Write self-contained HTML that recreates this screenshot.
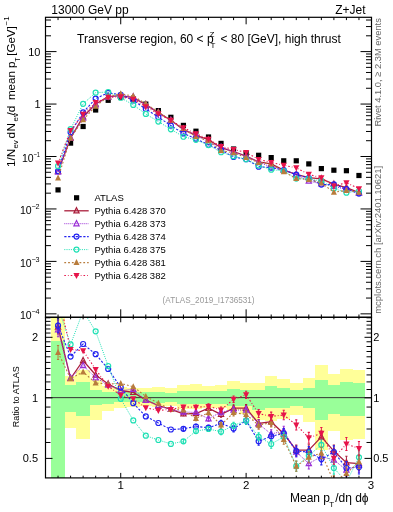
<!DOCTYPE html><html><head><meta charset="utf-8"><style>html,body{margin:0;padding:0;background:#fff;width:393px;height:512px;overflow:hidden;position:relative}svg{will-change:transform}svg text{font-family:"Liberation Sans",sans-serif}</style></head><body><svg width="393" height="512" viewBox="0 0 393 512" style="position:absolute;left:0;top:0">
<defs><clipPath id="cm"><rect x="45.50" y="17.30" width="326.00" height="300.00"/></clipPath>
<clipPath id="cr"><rect x="45.50" y="317.30" width="326.00" height="160.60"/></clipPath></defs>
<g clip-path="url(#cr)" shape-rendering="crispEdges">
<rect x="51.10" y="312.30" width="13.70" height="170.60" fill="#ffff99"/>
<rect x="51.10" y="341.00" width="13.70" height="141.90" fill="#99ff99"/>
<rect x="64.80" y="375.80" width="11.60" height="52.30" fill="#ffff99"/>
<rect x="64.80" y="384.90" width="11.60" height="27.40" fill="#99ff99"/>
<rect x="76.40" y="370.00" width="13.60" height="68.90" fill="#ffff99"/>
<rect x="76.40" y="382.40" width="13.60" height="33.70" fill="#99ff99"/>
<rect x="90.00" y="380.00" width="12.00" height="39.50" fill="#ffff99"/>
<rect x="90.00" y="389.60" width="12.00" height="15.60" fill="#99ff99"/>
<rect x="101.92" y="386.00" width="12.54" height="25.00" fill="#ffff99"/>
<rect x="101.92" y="391.75" width="12.54" height="11.75" fill="#99ff99"/>
<rect x="114.46" y="387.00" width="12.54" height="20.80" fill="#ffff99"/>
<rect x="114.46" y="392.40" width="12.54" height="9.60" fill="#99ff99"/>
<rect x="127.00" y="387.50" width="12.54" height="19.20" fill="#ffff99"/>
<rect x="127.00" y="392.20" width="12.54" height="9.60" fill="#99ff99"/>
<rect x="139.54" y="387.50" width="12.54" height="18.70" fill="#ffff99"/>
<rect x="139.54" y="392.20" width="12.54" height="9.40" fill="#99ff99"/>
<rect x="152.08" y="387.20" width="12.54" height="19.80" fill="#ffff99"/>
<rect x="152.08" y="392.10" width="12.54" height="10.40" fill="#99ff99"/>
<rect x="164.62" y="388.40" width="12.54" height="17.40" fill="#ffff99"/>
<rect x="164.62" y="393.00" width="12.54" height="9.20" fill="#99ff99"/>
<rect x="177.15" y="384.90" width="12.54" height="23.70" fill="#ffff99"/>
<rect x="177.15" y="391.00" width="12.54" height="13.00" fill="#99ff99"/>
<rect x="189.69" y="384.20" width="12.54" height="24.80" fill="#ffff99"/>
<rect x="189.69" y="391.00" width="12.54" height="13.00" fill="#99ff99"/>
<rect x="202.23" y="385.50" width="12.54" height="22.00" fill="#ffff99"/>
<rect x="202.23" y="391.40" width="12.54" height="12.20" fill="#99ff99"/>
<rect x="214.77" y="385.00" width="12.54" height="22.50" fill="#ffff99"/>
<rect x="214.77" y="391.10" width="12.54" height="12.80" fill="#99ff99"/>
<rect x="227.31" y="381.00" width="12.54" height="29.00" fill="#ffff99"/>
<rect x="227.31" y="389.10" width="12.54" height="16.60" fill="#99ff99"/>
<rect x="239.85" y="383.00" width="12.54" height="31.00" fill="#ffff99"/>
<rect x="239.85" y="390.20" width="12.54" height="15.50" fill="#99ff99"/>
<rect x="252.38" y="382.90" width="12.54" height="37.00" fill="#ffff99"/>
<rect x="252.38" y="389.70" width="12.54" height="19.90" fill="#99ff99"/>
<rect x="264.92" y="376.00" width="12.54" height="44.80" fill="#ffff99"/>
<rect x="264.92" y="386.10" width="12.54" height="21.40" fill="#99ff99"/>
<rect x="277.46" y="379.30" width="12.54" height="39.70" fill="#ffff99"/>
<rect x="277.46" y="388.00" width="12.54" height="19.80" fill="#99ff99"/>
<rect x="290.00" y="383.40" width="12.54" height="31.20" fill="#ffff99"/>
<rect x="290.00" y="389.80" width="12.54" height="16.50" fill="#99ff99"/>
<rect x="302.54" y="378.30" width="12.54" height="43.60" fill="#ffff99"/>
<rect x="302.54" y="387.90" width="12.54" height="20.50" fill="#99ff99"/>
<rect x="315.08" y="365.00" width="12.54" height="85.10" fill="#ffff99"/>
<rect x="315.08" y="380.20" width="12.54" height="39.60" fill="#99ff99"/>
<rect x="327.62" y="374.20" width="12.54" height="57.10" fill="#ffff99"/>
<rect x="327.62" y="384.70" width="12.54" height="28.90" fill="#99ff99"/>
<rect x="340.15" y="369.20" width="12.54" height="70.50" fill="#ffff99"/>
<rect x="340.15" y="382.20" width="12.54" height="33.50" fill="#99ff99"/>
<rect x="352.69" y="370.30" width="12.54" height="68.30" fill="#ffff99"/>
<rect x="352.69" y="382.90" width="12.54" height="32.80" fill="#99ff99"/>
</g>
<line x1="45.5" y1="397.65000000000003" x2="371.5" y2="397.65000000000003" stroke="#333" stroke-width="1.0"/>
<g clip-path="url(#cr)">
<path d="M58.04,327.00 L70.58,378.50 L83.12,360.50 L95.65,375.00 L108.19,384.00 L120.73,390.50 L133.27,392.40 L145.81,400.00 L158.35,405.50 L170.88,409.40 L183.42,413.90 L195.96,413.50 L208.50,408.20 L221.04,414.40 L233.58,408.20 L246.12,408.20 L258.65,423.50 L271.19,421.70 L283.73,433.80 L296.27,450.20 L308.81,450.20 L321.35,436.90 L333.88,451.10 L346.42,462.70 L358.96,463.60" fill="none" stroke="#aa1e3c" stroke-width="1.3" stroke-dasharray=""/>
<path d="M58.04,320.00V334.00M183.42,412.10V415.70M195.96,411.34V415.66M208.50,405.68V410.72M221.04,411.52V417.28M233.58,404.96V411.44M246.12,404.60V411.80M258.65,419.54V427.46M271.19,417.38V426.02M283.73,429.12V438.48M296.27,445.16V455.24M308.81,444.80V455.60M321.35,431.14V442.66M333.88,444.98V457.22M346.42,456.22V469.18M358.96,456.76V470.44" stroke="#aa1e3c" stroke-width="1" fill="none"/>
<path d="M56.94,320.00h2.2M56.94,334.00h2.2M182.32,412.10h2.2M182.32,415.70h2.2M194.86,411.34h2.2M194.86,415.66h2.2M207.40,405.68h2.2M207.40,410.72h2.2M219.94,411.52h2.2M219.94,417.28h2.2M232.48,404.96h2.2M232.48,411.44h2.2M245.02,404.60h2.2M245.02,411.80h2.2M257.55,419.54h2.2M257.55,427.46h2.2M270.09,417.38h2.2M270.09,426.02h2.2M282.63,429.12h2.2M282.63,438.48h2.2M295.17,445.16h2.2M295.17,455.24h2.2M307.71,444.80h2.2M307.71,455.60h2.2M320.25,431.14h2.2M320.25,442.66h2.2M332.78,444.98h2.2M332.78,457.22h2.2M345.32,456.22h2.2M345.32,469.18h2.2M357.86,456.76h2.2M357.86,470.44h2.2" stroke="#aa1e3c" stroke-width="1.1" fill="none"/>
<path d="M58.04,323.90L60.64,329.10L55.44,329.10Z" fill="none" stroke="#aa1e3c" stroke-width="1.2"/>
<path d="M70.58,375.40L73.18,380.60L67.98,380.60Z" fill="none" stroke="#aa1e3c" stroke-width="1.2"/>
<path d="M83.12,357.40L85.72,362.60L80.52,362.60Z" fill="none" stroke="#aa1e3c" stroke-width="1.2"/>
<path d="M95.65,371.90L98.25,377.10L93.05,377.10Z" fill="none" stroke="#aa1e3c" stroke-width="1.2"/>
<path d="M108.19,380.90L110.79,386.10L105.59,386.10Z" fill="none" stroke="#aa1e3c" stroke-width="1.2"/>
<path d="M120.73,387.40L123.33,392.60L118.13,392.60Z" fill="none" stroke="#aa1e3c" stroke-width="1.2"/>
<path d="M133.27,389.30L135.87,394.50L130.67,394.50Z" fill="none" stroke="#aa1e3c" stroke-width="1.2"/>
<path d="M145.81,396.90L148.41,402.10L143.21,402.10Z" fill="none" stroke="#aa1e3c" stroke-width="1.2"/>
<path d="M158.35,402.40L160.95,407.60L155.75,407.60Z" fill="none" stroke="#aa1e3c" stroke-width="1.2"/>
<path d="M170.88,406.30L173.48,411.50L168.28,411.50Z" fill="none" stroke="#aa1e3c" stroke-width="1.2"/>
<path d="M183.42,410.80L186.02,416.00L180.82,416.00Z" fill="none" stroke="#aa1e3c" stroke-width="1.2"/>
<path d="M195.96,410.40L198.56,415.60L193.36,415.60Z" fill="none" stroke="#aa1e3c" stroke-width="1.2"/>
<path d="M208.50,405.10L211.10,410.30L205.90,410.30Z" fill="none" stroke="#aa1e3c" stroke-width="1.2"/>
<path d="M221.04,411.30L223.64,416.50L218.44,416.50Z" fill="none" stroke="#aa1e3c" stroke-width="1.2"/>
<path d="M233.58,405.10L236.18,410.30L230.98,410.30Z" fill="none" stroke="#aa1e3c" stroke-width="1.2"/>
<path d="M246.12,405.10L248.72,410.30L243.52,410.30Z" fill="none" stroke="#aa1e3c" stroke-width="1.2"/>
<path d="M258.65,420.40L261.25,425.60L256.05,425.60Z" fill="none" stroke="#aa1e3c" stroke-width="1.2"/>
<path d="M271.19,418.60L273.79,423.80L268.59,423.80Z" fill="none" stroke="#aa1e3c" stroke-width="1.2"/>
<path d="M283.73,430.70L286.33,435.90L281.13,435.90Z" fill="none" stroke="#aa1e3c" stroke-width="1.2"/>
<path d="M296.27,447.10L298.87,452.30L293.67,452.30Z" fill="none" stroke="#aa1e3c" stroke-width="1.2"/>
<path d="M308.81,447.10L311.41,452.30L306.21,452.30Z" fill="none" stroke="#aa1e3c" stroke-width="1.2"/>
<path d="M321.35,433.80L323.95,439.00L318.75,439.00Z" fill="none" stroke="#aa1e3c" stroke-width="1.2"/>
<path d="M333.88,448.00L336.48,453.20L331.28,453.20Z" fill="none" stroke="#aa1e3c" stroke-width="1.2"/>
<path d="M346.42,459.60L349.02,464.80L343.82,464.80Z" fill="none" stroke="#aa1e3c" stroke-width="1.2"/>
<path d="M358.96,460.50L361.56,465.70L356.36,465.70Z" fill="none" stroke="#aa1e3c" stroke-width="1.2"/>
<path d="M58.04,329.70 L70.58,378.00 L83.12,365.60 L95.65,377.70 L108.19,385.00 L120.73,390.50 L133.27,389.30 L145.81,400.20 L158.35,406.00 L170.88,409.40 L183.42,412.00 L195.96,412.40 L208.50,418.80 L221.04,412.00 L233.58,410.00 L246.12,410.00 L258.65,424.00 L271.19,434.00 L283.73,431.00 L296.27,452.00 L308.81,463.60 L321.35,456.50 L333.88,460.00 L346.42,470.00 L358.96,465.40" fill="none" stroke="#9a2ed6" stroke-width="1.0" stroke-dasharray="1,1"/>
<path d="M58.04,322.70V336.70M183.42,410.20V413.80M195.96,410.24V414.56M208.50,416.28V421.32M221.04,409.12V414.88M233.58,406.76V413.24M246.12,406.40V413.60M258.65,420.04V427.96M271.19,429.68V438.32M283.73,426.32V435.68M296.27,446.96V457.04M308.81,458.20V469.00M321.35,450.74V462.26M333.88,453.88V466.12M346.42,463.52V476.48M358.96,458.56V472.24" stroke="#9a2ed6" stroke-width="1" fill="none"/>
<path d="M56.94,322.70h2.2M56.94,336.70h2.2M182.32,410.20h2.2M182.32,413.80h2.2M194.86,410.24h2.2M194.86,414.56h2.2M207.40,416.28h2.2M207.40,421.32h2.2M219.94,409.12h2.2M219.94,414.88h2.2M232.48,406.76h2.2M232.48,413.24h2.2M245.02,406.40h2.2M245.02,413.60h2.2M257.55,420.04h2.2M257.55,427.96h2.2M270.09,429.68h2.2M270.09,438.32h2.2M282.63,426.32h2.2M282.63,435.68h2.2M295.17,446.96h2.2M295.17,457.04h2.2M307.71,458.20h2.2M307.71,469.00h2.2M320.25,450.74h2.2M320.25,462.26h2.2M332.78,453.88h2.2M332.78,466.12h2.2M345.32,463.52h2.2M345.32,476.48h2.2M357.86,458.56h2.2M357.86,472.24h2.2" stroke="#9a2ed6" stroke-width="1.1" fill="none"/>
<path d="M58.04,326.60L60.64,331.80L55.44,331.80Z" fill="none" stroke="#9a2ed6" stroke-width="1.2"/>
<path d="M70.58,374.90L73.18,380.10L67.98,380.10Z" fill="none" stroke="#9a2ed6" stroke-width="1.2"/>
<path d="M83.12,362.50L85.72,367.70L80.52,367.70Z" fill="none" stroke="#9a2ed6" stroke-width="1.2"/>
<path d="M95.65,374.60L98.25,379.80L93.05,379.80Z" fill="none" stroke="#9a2ed6" stroke-width="1.2"/>
<path d="M108.19,381.90L110.79,387.10L105.59,387.10Z" fill="none" stroke="#9a2ed6" stroke-width="1.2"/>
<path d="M120.73,387.40L123.33,392.60L118.13,392.60Z" fill="none" stroke="#9a2ed6" stroke-width="1.2"/>
<path d="M133.27,386.20L135.87,391.40L130.67,391.40Z" fill="none" stroke="#9a2ed6" stroke-width="1.2"/>
<path d="M145.81,397.10L148.41,402.30L143.21,402.30Z" fill="none" stroke="#9a2ed6" stroke-width="1.2"/>
<path d="M158.35,402.90L160.95,408.10L155.75,408.10Z" fill="none" stroke="#9a2ed6" stroke-width="1.2"/>
<path d="M170.88,406.30L173.48,411.50L168.28,411.50Z" fill="none" stroke="#9a2ed6" stroke-width="1.2"/>
<path d="M183.42,408.90L186.02,414.10L180.82,414.10Z" fill="none" stroke="#9a2ed6" stroke-width="1.2"/>
<path d="M195.96,409.30L198.56,414.50L193.36,414.50Z" fill="none" stroke="#9a2ed6" stroke-width="1.2"/>
<path d="M208.50,415.70L211.10,420.90L205.90,420.90Z" fill="none" stroke="#9a2ed6" stroke-width="1.2"/>
<path d="M221.04,408.90L223.64,414.10L218.44,414.10Z" fill="none" stroke="#9a2ed6" stroke-width="1.2"/>
<path d="M233.58,406.90L236.18,412.10L230.98,412.10Z" fill="none" stroke="#9a2ed6" stroke-width="1.2"/>
<path d="M246.12,406.90L248.72,412.10L243.52,412.10Z" fill="none" stroke="#9a2ed6" stroke-width="1.2"/>
<path d="M258.65,420.90L261.25,426.10L256.05,426.10Z" fill="none" stroke="#9a2ed6" stroke-width="1.2"/>
<path d="M271.19,430.90L273.79,436.10L268.59,436.10Z" fill="none" stroke="#9a2ed6" stroke-width="1.2"/>
<path d="M283.73,427.90L286.33,433.10L281.13,433.10Z" fill="none" stroke="#9a2ed6" stroke-width="1.2"/>
<path d="M296.27,448.90L298.87,454.10L293.67,454.10Z" fill="none" stroke="#9a2ed6" stroke-width="1.2"/>
<path d="M308.81,460.50L311.41,465.70L306.21,465.70Z" fill="none" stroke="#9a2ed6" stroke-width="1.2"/>
<path d="M321.35,453.40L323.95,458.60L318.75,458.60Z" fill="none" stroke="#9a2ed6" stroke-width="1.2"/>
<path d="M333.88,456.90L336.48,462.10L331.28,462.10Z" fill="none" stroke="#9a2ed6" stroke-width="1.2"/>
<path d="M346.42,466.90L349.02,472.10L343.82,472.10Z" fill="none" stroke="#9a2ed6" stroke-width="1.2"/>
<path d="M358.96,462.30L361.56,467.50L356.36,467.50Z" fill="none" stroke="#9a2ed6" stroke-width="1.2"/>
<path d="M58.04,325.70 L70.58,356.60 L83.12,344.00 L95.65,354.20 L108.19,369.00 L120.73,387.40 L133.27,403.20 L145.81,416.40 L158.35,423.00 L170.88,429.50 L183.42,428.80 L195.96,426.50 L208.50,427.70 L221.04,423.30 L233.58,428.60 L246.12,420.60 L258.65,441.30 L271.19,436.30 L283.73,433.30 L296.27,451.10 L308.81,452.00 L321.35,459.10 L333.88,452.00 L346.42,468.00 L358.96,467.10" fill="none" stroke="#2222f0" stroke-width="1.1" stroke-dasharray="2.2,1.6"/>
<path d="M58.04,318.70V332.70M183.42,427.00V430.60M195.96,424.34V428.66M208.50,425.18V430.22M221.04,420.42V426.18M233.58,425.36V431.84M246.12,417.00V424.20M258.65,437.34V445.26M271.19,431.98V440.62M283.73,428.62V437.98M296.27,446.06V456.14M308.81,446.60V457.40M321.35,453.34V464.86M333.88,445.88V458.12M346.42,461.52V474.48M358.96,460.26V473.94" stroke="#2222f0" stroke-width="1" fill="none"/>
<path d="M56.94,318.70h2.2M56.94,332.70h2.2M182.32,427.00h2.2M182.32,430.60h2.2M194.86,424.34h2.2M194.86,428.66h2.2M207.40,425.18h2.2M207.40,430.22h2.2M219.94,420.42h2.2M219.94,426.18h2.2M232.48,425.36h2.2M232.48,431.84h2.2M245.02,417.00h2.2M245.02,424.20h2.2M257.55,437.34h2.2M257.55,445.26h2.2M270.09,431.98h2.2M270.09,440.62h2.2M282.63,428.62h2.2M282.63,437.98h2.2M295.17,446.06h2.2M295.17,456.14h2.2M307.71,446.60h2.2M307.71,457.40h2.2M320.25,453.34h2.2M320.25,464.86h2.2M332.78,445.88h2.2M332.78,458.12h2.2M345.32,461.52h2.2M345.32,474.48h2.2M357.86,460.26h2.2M357.86,473.94h2.2" stroke="#2222f0" stroke-width="1.1" fill="none"/>
<circle cx="58.04" cy="325.70" r="2.5" fill="none" stroke="#2222f0" stroke-width="1.2"/>
<circle cx="70.58" cy="356.60" r="2.5" fill="none" stroke="#2222f0" stroke-width="1.2"/>
<circle cx="83.12" cy="344.00" r="2.5" fill="none" stroke="#2222f0" stroke-width="1.2"/>
<circle cx="95.65" cy="354.20" r="2.5" fill="none" stroke="#2222f0" stroke-width="1.2"/>
<circle cx="108.19" cy="369.00" r="2.5" fill="none" stroke="#2222f0" stroke-width="1.2"/>
<circle cx="120.73" cy="387.40" r="2.5" fill="none" stroke="#2222f0" stroke-width="1.2"/>
<circle cx="133.27" cy="403.20" r="2.5" fill="none" stroke="#2222f0" stroke-width="1.2"/>
<circle cx="145.81" cy="416.40" r="2.5" fill="none" stroke="#2222f0" stroke-width="1.2"/>
<circle cx="158.35" cy="423.00" r="2.5" fill="none" stroke="#2222f0" stroke-width="1.2"/>
<circle cx="170.88" cy="429.50" r="2.5" fill="none" stroke="#2222f0" stroke-width="1.2"/>
<circle cx="183.42" cy="428.80" r="2.5" fill="none" stroke="#2222f0" stroke-width="1.2"/>
<circle cx="195.96" cy="426.50" r="2.5" fill="none" stroke="#2222f0" stroke-width="1.2"/>
<circle cx="208.50" cy="427.70" r="2.5" fill="none" stroke="#2222f0" stroke-width="1.2"/>
<circle cx="221.04" cy="423.30" r="2.5" fill="none" stroke="#2222f0" stroke-width="1.2"/>
<circle cx="233.58" cy="428.60" r="2.5" fill="none" stroke="#2222f0" stroke-width="1.2"/>
<circle cx="246.12" cy="420.60" r="2.5" fill="none" stroke="#2222f0" stroke-width="1.2"/>
<circle cx="258.65" cy="441.30" r="2.5" fill="none" stroke="#2222f0" stroke-width="1.2"/>
<circle cx="271.19" cy="436.30" r="2.5" fill="none" stroke="#2222f0" stroke-width="1.2"/>
<circle cx="283.73" cy="433.30" r="2.5" fill="none" stroke="#2222f0" stroke-width="1.2"/>
<circle cx="296.27" cy="451.10" r="2.5" fill="none" stroke="#2222f0" stroke-width="1.2"/>
<circle cx="308.81" cy="452.00" r="2.5" fill="none" stroke="#2222f0" stroke-width="1.2"/>
<circle cx="321.35" cy="459.10" r="2.5" fill="none" stroke="#2222f0" stroke-width="1.2"/>
<circle cx="333.88" cy="452.00" r="2.5" fill="none" stroke="#2222f0" stroke-width="1.2"/>
<circle cx="346.42" cy="468.00" r="2.5" fill="none" stroke="#2222f0" stroke-width="1.2"/>
<circle cx="358.96" cy="467.10" r="2.5" fill="none" stroke="#2222f0" stroke-width="1.2"/>
<path d="M58.04,307.00 L70.58,344.40 L83.12,311.00 L95.65,331.30 L108.19,366.00 L120.73,398.80 L133.27,420.40 L145.81,435.70 L158.35,440.00 L170.88,443.90 L183.42,441.30 L195.96,431.10 L208.50,429.00 L221.04,431.70 L233.58,425.50 L246.12,420.60 L258.65,436.80 L271.19,444.00 L283.73,436.90 L296.27,466.20 L308.81,455.60 L321.35,444.90 L333.88,468.00 L346.42,482.00 L358.96,457.30" fill="none" stroke="#1ee0b4" stroke-width="1.0" stroke-dasharray="1,1.2"/>
<path d="M58.04,300.00V314.00M183.42,439.50V443.10M195.96,428.94V433.26M208.50,426.48V431.52M221.04,428.82V434.58M233.58,422.26V428.74M246.12,417.00V424.20M258.65,432.84V440.76M271.19,439.68V448.32M283.73,432.22V441.58M296.27,461.16V471.24M308.81,450.20V461.00M321.35,439.14V450.66M333.88,461.88V474.12M346.42,475.52V488.48M358.96,450.46V464.14" stroke="#1ee0b4" stroke-width="1" fill="none"/>
<path d="M56.94,300.00h2.2M56.94,314.00h2.2M182.32,439.50h2.2M182.32,443.10h2.2M194.86,428.94h2.2M194.86,433.26h2.2M207.40,426.48h2.2M207.40,431.52h2.2M219.94,428.82h2.2M219.94,434.58h2.2M232.48,422.26h2.2M232.48,428.74h2.2M245.02,417.00h2.2M245.02,424.20h2.2M257.55,432.84h2.2M257.55,440.76h2.2M270.09,439.68h2.2M270.09,448.32h2.2M282.63,432.22h2.2M282.63,441.58h2.2M295.17,461.16h2.2M295.17,471.24h2.2M307.71,450.20h2.2M307.71,461.00h2.2M320.25,439.14h2.2M320.25,450.66h2.2M332.78,461.88h2.2M332.78,474.12h2.2M345.32,475.52h2.2M345.32,488.48h2.2M357.86,450.46h2.2M357.86,464.14h2.2" stroke="#1ee0b4" stroke-width="1.1" fill="none"/>
<circle cx="58.04" cy="307.00" r="2.5" fill="none" stroke="#1ee0b4" stroke-width="1.2"/>
<circle cx="70.58" cy="344.40" r="2.5" fill="none" stroke="#1ee0b4" stroke-width="1.2"/>
<circle cx="83.12" cy="311.00" r="2.5" fill="none" stroke="#1ee0b4" stroke-width="1.2"/>
<circle cx="95.65" cy="331.30" r="2.5" fill="none" stroke="#1ee0b4" stroke-width="1.2"/>
<circle cx="108.19" cy="366.00" r="2.5" fill="none" stroke="#1ee0b4" stroke-width="1.2"/>
<circle cx="120.73" cy="398.80" r="2.5" fill="none" stroke="#1ee0b4" stroke-width="1.2"/>
<circle cx="133.27" cy="420.40" r="2.5" fill="none" stroke="#1ee0b4" stroke-width="1.2"/>
<circle cx="145.81" cy="435.70" r="2.5" fill="none" stroke="#1ee0b4" stroke-width="1.2"/>
<circle cx="158.35" cy="440.00" r="2.5" fill="none" stroke="#1ee0b4" stroke-width="1.2"/>
<circle cx="170.88" cy="443.90" r="2.5" fill="none" stroke="#1ee0b4" stroke-width="1.2"/>
<circle cx="183.42" cy="441.30" r="2.5" fill="none" stroke="#1ee0b4" stroke-width="1.2"/>
<circle cx="195.96" cy="431.10" r="2.5" fill="none" stroke="#1ee0b4" stroke-width="1.2"/>
<circle cx="208.50" cy="429.00" r="2.5" fill="none" stroke="#1ee0b4" stroke-width="1.2"/>
<circle cx="221.04" cy="431.70" r="2.5" fill="none" stroke="#1ee0b4" stroke-width="1.2"/>
<circle cx="233.58" cy="425.50" r="2.5" fill="none" stroke="#1ee0b4" stroke-width="1.2"/>
<circle cx="246.12" cy="420.60" r="2.5" fill="none" stroke="#1ee0b4" stroke-width="1.2"/>
<circle cx="258.65" cy="436.80" r="2.5" fill="none" stroke="#1ee0b4" stroke-width="1.2"/>
<circle cx="271.19" cy="444.00" r="2.5" fill="none" stroke="#1ee0b4" stroke-width="1.2"/>
<circle cx="283.73" cy="436.90" r="2.5" fill="none" stroke="#1ee0b4" stroke-width="1.2"/>
<circle cx="296.27" cy="466.20" r="2.5" fill="none" stroke="#1ee0b4" stroke-width="1.2"/>
<circle cx="308.81" cy="455.60" r="2.5" fill="none" stroke="#1ee0b4" stroke-width="1.2"/>
<circle cx="321.35" cy="444.90" r="2.5" fill="none" stroke="#1ee0b4" stroke-width="1.2"/>
<circle cx="333.88" cy="468.00" r="2.5" fill="none" stroke="#1ee0b4" stroke-width="1.2"/>
<circle cx="346.42" cy="482.00" r="2.5" fill="none" stroke="#1ee0b4" stroke-width="1.2"/>
<circle cx="358.96" cy="457.30" r="2.5" fill="none" stroke="#1ee0b4" stroke-width="1.2"/>
<path d="M58.04,352.50 L70.58,378.50 L83.12,372.00 L95.65,383.00 L108.19,384.00 L120.73,383.50 L133.27,386.70 L145.81,396.40 L158.35,403.20 L170.88,409.40 L183.42,410.00 L195.96,418.50 L208.50,412.60 L221.04,425.10 L233.58,412.60 L246.12,414.40 L258.65,425.20 L271.19,422.60 L283.73,439.50 L296.27,466.20 L308.81,457.30 L321.35,452.90 L333.88,482.00 L346.42,473.40 L358.96,461.80" fill="none" stroke="#b87c3c" stroke-width="1.1" stroke-dasharray="1.8,2"/>
<path d="M58.04,345.50V359.50M183.42,408.20V411.80M195.96,416.34V420.66M208.50,410.08V415.12M221.04,422.22V427.98M233.58,409.36V415.84M246.12,410.80V418.00M258.65,421.24V429.16M271.19,418.28V426.92M283.73,434.82V444.18M296.27,461.16V471.24M308.81,451.90V462.70M321.35,447.14V458.66M333.88,475.88V488.12M346.42,466.92V479.88M358.96,454.96V468.64" stroke="#b87c3c" stroke-width="1" fill="none"/>
<path d="M56.94,345.50h2.2M56.94,359.50h2.2M182.32,408.20h2.2M182.32,411.80h2.2M194.86,416.34h2.2M194.86,420.66h2.2M207.40,410.08h2.2M207.40,415.12h2.2M219.94,422.22h2.2M219.94,427.98h2.2M232.48,409.36h2.2M232.48,415.84h2.2M245.02,410.80h2.2M245.02,418.00h2.2M257.55,421.24h2.2M257.55,429.16h2.2M270.09,418.28h2.2M270.09,426.92h2.2M282.63,434.82h2.2M282.63,444.18h2.2M295.17,461.16h2.2M295.17,471.24h2.2M307.71,451.90h2.2M307.71,462.70h2.2M320.25,447.14h2.2M320.25,458.66h2.2M332.78,475.88h2.2M332.78,488.12h2.2M345.32,466.92h2.2M345.32,479.88h2.2M357.86,454.96h2.2M357.86,468.64h2.2" stroke="#b87c3c" stroke-width="1.1" fill="none"/>
<path d="M58.04,349.00L61.04,355.00L55.04,355.00Z" fill="#b87c3c"/>
<path d="M70.58,375.00L73.58,381.00L67.58,381.00Z" fill="#b87c3c"/>
<path d="M83.12,368.50L86.12,374.50L80.12,374.50Z" fill="#b87c3c"/>
<path d="M95.65,379.50L98.65,385.50L92.65,385.50Z" fill="#b87c3c"/>
<path d="M108.19,380.50L111.19,386.50L105.19,386.50Z" fill="#b87c3c"/>
<path d="M120.73,380.00L123.73,386.00L117.73,386.00Z" fill="#b87c3c"/>
<path d="M133.27,383.20L136.27,389.20L130.27,389.20Z" fill="#b87c3c"/>
<path d="M145.81,392.90L148.81,398.90L142.81,398.90Z" fill="#b87c3c"/>
<path d="M158.35,399.70L161.35,405.70L155.35,405.70Z" fill="#b87c3c"/>
<path d="M170.88,405.90L173.88,411.90L167.88,411.90Z" fill="#b87c3c"/>
<path d="M183.42,406.50L186.42,412.50L180.42,412.50Z" fill="#b87c3c"/>
<path d="M195.96,415.00L198.96,421.00L192.96,421.00Z" fill="#b87c3c"/>
<path d="M208.50,409.10L211.50,415.10L205.50,415.10Z" fill="#b87c3c"/>
<path d="M221.04,421.60L224.04,427.60L218.04,427.60Z" fill="#b87c3c"/>
<path d="M233.58,409.10L236.58,415.10L230.58,415.10Z" fill="#b87c3c"/>
<path d="M246.12,410.90L249.12,416.90L243.12,416.90Z" fill="#b87c3c"/>
<path d="M258.65,421.70L261.65,427.70L255.65,427.70Z" fill="#b87c3c"/>
<path d="M271.19,419.10L274.19,425.10L268.19,425.10Z" fill="#b87c3c"/>
<path d="M283.73,436.00L286.73,442.00L280.73,442.00Z" fill="#b87c3c"/>
<path d="M296.27,462.70L299.27,468.70L293.27,468.70Z" fill="#b87c3c"/>
<path d="M308.81,453.80L311.81,459.80L305.81,459.80Z" fill="#b87c3c"/>
<path d="M321.35,449.40L324.35,455.40L318.35,455.40Z" fill="#b87c3c"/>
<path d="M333.88,478.50L336.88,484.50L330.88,484.50Z" fill="#b87c3c"/>
<path d="M346.42,469.90L349.42,475.90L343.42,475.90Z" fill="#b87c3c"/>
<path d="M358.96,458.30L361.96,464.30L355.96,464.30Z" fill="#b87c3c"/>
<path d="M58.04,294.50 L70.58,349.40 L83.12,350.70 L95.65,369.40 L108.19,386.30 L120.73,395.20 L133.27,398.80 L145.81,407.80 L158.35,410.40 L170.88,409.40 L183.42,407.00 L195.96,407.20 L208.50,406.40 L221.04,409.90 L233.58,399.30 L246.12,394.80 L258.65,413.60 L271.19,416.40 L283.73,415.00 L296.27,424.90 L308.81,437.80 L321.35,433.30 L333.88,458.20 L346.42,444.00 L358.96,448.40" fill="none" stroke="#e6144a" stroke-width="1.1" stroke-dasharray="1.6,2,0.8,2"/>
<path d="M58.04,287.50V301.50M183.42,405.20V408.80M195.96,405.04V409.36M208.50,403.88V408.92M221.04,407.02V412.78M233.58,396.06V402.54M246.12,391.20V398.40M258.65,409.64V417.56M271.19,412.08V420.72M283.73,410.32V419.68M296.27,419.86V429.94M308.81,432.40V443.20M321.35,427.54V439.06M333.88,452.08V464.32M346.42,437.52V450.48M358.96,441.56V455.24" stroke="#e6144a" stroke-width="1" fill="none"/>
<path d="M56.94,287.50h2.2M56.94,301.50h2.2M182.32,405.20h2.2M182.32,408.80h2.2M194.86,405.04h2.2M194.86,409.36h2.2M207.40,403.88h2.2M207.40,408.92h2.2M219.94,407.02h2.2M219.94,412.78h2.2M232.48,396.06h2.2M232.48,402.54h2.2M245.02,391.20h2.2M245.02,398.40h2.2M257.55,409.64h2.2M257.55,417.56h2.2M270.09,412.08h2.2M270.09,420.72h2.2M282.63,410.32h2.2M282.63,419.68h2.2M295.17,419.86h2.2M295.17,429.94h2.2M307.71,432.40h2.2M307.71,443.20h2.2M320.25,427.54h2.2M320.25,439.06h2.2M332.78,452.08h2.2M332.78,464.32h2.2M345.32,437.52h2.2M345.32,450.48h2.2M357.86,441.56h2.2M357.86,455.24h2.2" stroke="#e6144a" stroke-width="1.1" fill="none"/>
<path d="M58.04,298.00L61.14,292.00L54.94,292.00Z" fill="#e6144a"/>
<path d="M70.58,352.90L73.68,346.90L67.48,346.90Z" fill="#e6144a"/>
<path d="M83.12,354.20L86.22,348.20L80.02,348.20Z" fill="#e6144a"/>
<path d="M95.65,372.90L98.75,366.90L92.55,366.90Z" fill="#e6144a"/>
<path d="M108.19,389.80L111.29,383.80L105.09,383.80Z" fill="#e6144a"/>
<path d="M120.73,398.70L123.83,392.70L117.63,392.70Z" fill="#e6144a"/>
<path d="M133.27,402.30L136.37,396.30L130.17,396.30Z" fill="#e6144a"/>
<path d="M145.81,411.30L148.91,405.30L142.71,405.30Z" fill="#e6144a"/>
<path d="M158.35,413.90L161.45,407.90L155.25,407.90Z" fill="#e6144a"/>
<path d="M170.88,412.90L173.98,406.90L167.78,406.90Z" fill="#e6144a"/>
<path d="M183.42,410.50L186.52,404.50L180.32,404.50Z" fill="#e6144a"/>
<path d="M195.96,410.70L199.06,404.70L192.86,404.70Z" fill="#e6144a"/>
<path d="M208.50,409.90L211.60,403.90L205.40,403.90Z" fill="#e6144a"/>
<path d="M221.04,413.40L224.14,407.40L217.94,407.40Z" fill="#e6144a"/>
<path d="M233.58,402.80L236.68,396.80L230.48,396.80Z" fill="#e6144a"/>
<path d="M246.12,398.30L249.22,392.30L243.02,392.30Z" fill="#e6144a"/>
<path d="M258.65,417.10L261.75,411.10L255.55,411.10Z" fill="#e6144a"/>
<path d="M271.19,419.90L274.29,413.90L268.09,413.90Z" fill="#e6144a"/>
<path d="M283.73,418.50L286.83,412.50L280.63,412.50Z" fill="#e6144a"/>
<path d="M296.27,428.40L299.37,422.40L293.17,422.40Z" fill="#e6144a"/>
<path d="M308.81,441.30L311.91,435.30L305.71,435.30Z" fill="#e6144a"/>
<path d="M321.35,436.80L324.45,430.80L318.25,430.80Z" fill="#e6144a"/>
<path d="M333.88,461.70L336.98,455.70L330.78,455.70Z" fill="#e6144a"/>
<path d="M346.42,447.50L349.52,441.50L343.32,441.50Z" fill="#e6144a"/>
<path d="M358.96,451.90L362.06,445.90L355.86,445.90Z" fill="#e6144a"/>
</g>
<g clip-path="url(#cm)">
<rect x="55.44" y="187.30" width="5.2" height="5.2" fill="#000"/>
<rect x="67.98" y="140.50" width="5.2" height="5.2" fill="#000"/>
<rect x="80.52" y="123.90" width="5.2" height="5.2" fill="#000"/>
<rect x="93.05" y="107.40" width="5.2" height="5.2" fill="#000"/>
<rect x="105.59" y="97.70" width="5.2" height="5.2" fill="#000"/>
<rect x="118.13" y="94.90" width="5.2" height="5.2" fill="#000"/>
<rect x="130.67" y="96.40" width="5.2" height="5.2" fill="#000"/>
<rect x="143.21" y="101.50" width="5.2" height="5.2" fill="#000"/>
<rect x="155.75" y="108.00" width="5.2" height="5.2" fill="#000"/>
<rect x="168.28" y="114.70" width="5.2" height="5.2" fill="#000"/>
<rect x="180.82" y="122.80" width="5.2" height="5.2" fill="#000"/>
<rect x="193.36" y="128.60" width="5.2" height="5.2" fill="#000"/>
<rect x="205.90" y="134.40" width="5.2" height="5.2" fill="#000"/>
<rect x="218.44" y="140.80" width="5.2" height="5.2" fill="#000"/>
<rect x="230.98" y="146.40" width="5.2" height="5.2" fill="#000"/>
<rect x="243.52" y="150.70" width="5.2" height="5.2" fill="#000"/>
<rect x="256.05" y="152.70" width="5.2" height="5.2" fill="#000"/>
<rect x="268.59" y="155.00" width="5.2" height="5.2" fill="#000"/>
<rect x="281.13" y="158.20" width="5.2" height="5.2" fill="#000"/>
<rect x="293.67" y="158.20" width="5.2" height="5.2" fill="#000"/>
<rect x="306.21" y="161.30" width="5.2" height="5.2" fill="#000"/>
<rect x="318.75" y="166.00" width="5.2" height="5.2" fill="#000"/>
<rect x="331.28" y="167.60" width="5.2" height="5.2" fill="#000"/>
<rect x="343.82" y="168.10" width="5.2" height="5.2" fill="#000"/>
<rect x="356.36" y="172.90" width="5.2" height="5.2" fill="#000"/>
<path d="M58.04,171.42 L70.58,138.05 L83.12,116.76 L95.65,104.04 L108.19,96.69 L120.73,95.58 L133.27,97.58 L145.81,104.66 L158.35,112.59 L170.88,120.31 L183.42,129.59 L195.96,135.28 L208.50,139.70 L221.04,147.72 L233.58,151.70 L246.12,156.00 L258.65,161.99 L271.19,163.82 L283.73,170.17 L296.27,174.45 L308.81,177.55 L321.35,178.78 L333.88,184.09 L346.42,187.61 L358.96,192.65" fill="none" stroke="#aa1e3c" stroke-width="1.3" stroke-dasharray=""/>
<path d="M58.04,168.32L60.64,173.52L55.44,173.52Z" fill="none" stroke="#aa1e3c" stroke-width="1.2"/>
<path d="M70.58,134.95L73.18,140.15L67.98,140.15Z" fill="none" stroke="#aa1e3c" stroke-width="1.2"/>
<path d="M83.12,113.66L85.72,118.86L80.52,118.86Z" fill="none" stroke="#aa1e3c" stroke-width="1.2"/>
<path d="M95.65,100.94L98.25,106.14L93.05,106.14Z" fill="none" stroke="#aa1e3c" stroke-width="1.2"/>
<path d="M108.19,93.59L110.79,98.79L105.59,98.79Z" fill="none" stroke="#aa1e3c" stroke-width="1.2"/>
<path d="M120.73,92.48L123.33,97.68L118.13,97.68Z" fill="none" stroke="#aa1e3c" stroke-width="1.2"/>
<path d="M133.27,94.48L135.87,99.68L130.67,99.68Z" fill="none" stroke="#aa1e3c" stroke-width="1.2"/>
<path d="M145.81,101.56L148.41,106.76L143.21,106.76Z" fill="none" stroke="#aa1e3c" stroke-width="1.2"/>
<path d="M158.35,109.49L160.95,114.69L155.75,114.69Z" fill="none" stroke="#aa1e3c" stroke-width="1.2"/>
<path d="M170.88,117.21L173.48,122.41L168.28,122.41Z" fill="none" stroke="#aa1e3c" stroke-width="1.2"/>
<path d="M183.42,126.49L186.02,131.69L180.82,131.69Z" fill="none" stroke="#aa1e3c" stroke-width="1.2"/>
<path d="M195.96,132.18L198.56,137.38L193.36,137.38Z" fill="none" stroke="#aa1e3c" stroke-width="1.2"/>
<path d="M208.50,136.60L211.10,141.80L205.90,141.80Z" fill="none" stroke="#aa1e3c" stroke-width="1.2"/>
<path d="M221.04,144.62L223.64,149.82L218.44,149.82Z" fill="none" stroke="#aa1e3c" stroke-width="1.2"/>
<path d="M233.58,148.60L236.18,153.80L230.98,153.80Z" fill="none" stroke="#aa1e3c" stroke-width="1.2"/>
<path d="M246.12,152.90L248.72,158.10L243.52,158.10Z" fill="none" stroke="#aa1e3c" stroke-width="1.2"/>
<path d="M258.65,158.89L261.25,164.09L256.05,164.09Z" fill="none" stroke="#aa1e3c" stroke-width="1.2"/>
<path d="M271.19,160.72L273.79,165.92L268.59,165.92Z" fill="none" stroke="#aa1e3c" stroke-width="1.2"/>
<path d="M283.73,167.07L286.33,172.27L281.13,172.27Z" fill="none" stroke="#aa1e3c" stroke-width="1.2"/>
<path d="M296.27,171.35L298.87,176.55L293.67,176.55Z" fill="none" stroke="#aa1e3c" stroke-width="1.2"/>
<path d="M308.81,174.45L311.41,179.65L306.21,179.65Z" fill="none" stroke="#aa1e3c" stroke-width="1.2"/>
<path d="M321.35,175.68L323.95,180.88L318.75,180.88Z" fill="none" stroke="#aa1e3c" stroke-width="1.2"/>
<path d="M333.88,180.99L336.48,186.19L331.28,186.19Z" fill="none" stroke="#aa1e3c" stroke-width="1.2"/>
<path d="M346.42,184.51L349.02,189.71L343.82,189.71Z" fill="none" stroke="#aa1e3c" stroke-width="1.2"/>
<path d="M358.96,189.55L361.56,194.75L356.36,194.75Z" fill="none" stroke="#aa1e3c" stroke-width="1.2"/>
<path d="M58.04,172.13 L70.58,137.92 L83.12,118.09 L95.65,104.75 L108.19,96.95 L120.73,95.58 L133.27,96.77 L145.81,104.71 L158.35,112.73 L170.88,120.31 L183.42,129.09 L195.96,134.99 L208.50,142.46 L221.04,147.09 L233.58,152.17 L246.12,156.47 L258.65,162.12 L271.19,167.03 L283.73,169.44 L296.27,174.92 L308.81,181.05 L321.35,183.89 L333.88,186.41 L346.42,189.51 L358.96,193.12" fill="none" stroke="#9a2ed6" stroke-width="1.0" stroke-dasharray="1,1"/>
<path d="M58.04,169.03L60.64,174.23L55.44,174.23Z" fill="none" stroke="#9a2ed6" stroke-width="1.2"/>
<path d="M70.58,134.82L73.18,140.02L67.98,140.02Z" fill="none" stroke="#9a2ed6" stroke-width="1.2"/>
<path d="M83.12,114.99L85.72,120.19L80.52,120.19Z" fill="none" stroke="#9a2ed6" stroke-width="1.2"/>
<path d="M95.65,101.65L98.25,106.85L93.05,106.85Z" fill="none" stroke="#9a2ed6" stroke-width="1.2"/>
<path d="M108.19,93.85L110.79,99.05L105.59,99.05Z" fill="none" stroke="#9a2ed6" stroke-width="1.2"/>
<path d="M120.73,92.48L123.33,97.68L118.13,97.68Z" fill="none" stroke="#9a2ed6" stroke-width="1.2"/>
<path d="M133.27,93.67L135.87,98.87L130.67,98.87Z" fill="none" stroke="#9a2ed6" stroke-width="1.2"/>
<path d="M145.81,101.61L148.41,106.81L143.21,106.81Z" fill="none" stroke="#9a2ed6" stroke-width="1.2"/>
<path d="M158.35,109.63L160.95,114.83L155.75,114.83Z" fill="none" stroke="#9a2ed6" stroke-width="1.2"/>
<path d="M170.88,117.21L173.48,122.41L168.28,122.41Z" fill="none" stroke="#9a2ed6" stroke-width="1.2"/>
<path d="M183.42,125.99L186.02,131.19L180.82,131.19Z" fill="none" stroke="#9a2ed6" stroke-width="1.2"/>
<path d="M195.96,131.89L198.56,137.09L193.36,137.09Z" fill="none" stroke="#9a2ed6" stroke-width="1.2"/>
<path d="M208.50,139.36L211.10,144.56L205.90,144.56Z" fill="none" stroke="#9a2ed6" stroke-width="1.2"/>
<path d="M221.04,143.99L223.64,149.19L218.44,149.19Z" fill="none" stroke="#9a2ed6" stroke-width="1.2"/>
<path d="M233.58,149.07L236.18,154.27L230.98,154.27Z" fill="none" stroke="#9a2ed6" stroke-width="1.2"/>
<path d="M246.12,153.37L248.72,158.57L243.52,158.57Z" fill="none" stroke="#9a2ed6" stroke-width="1.2"/>
<path d="M258.65,159.02L261.25,164.22L256.05,164.22Z" fill="none" stroke="#9a2ed6" stroke-width="1.2"/>
<path d="M271.19,163.93L273.79,169.13L268.59,169.13Z" fill="none" stroke="#9a2ed6" stroke-width="1.2"/>
<path d="M283.73,166.34L286.33,171.54L281.13,171.54Z" fill="none" stroke="#9a2ed6" stroke-width="1.2"/>
<path d="M296.27,171.82L298.87,177.02L293.67,177.02Z" fill="none" stroke="#9a2ed6" stroke-width="1.2"/>
<path d="M308.81,177.95L311.41,183.15L306.21,183.15Z" fill="none" stroke="#9a2ed6" stroke-width="1.2"/>
<path d="M321.35,180.79L323.95,185.99L318.75,185.99Z" fill="none" stroke="#9a2ed6" stroke-width="1.2"/>
<path d="M333.88,183.31L336.48,188.51L331.28,188.51Z" fill="none" stroke="#9a2ed6" stroke-width="1.2"/>
<path d="M346.42,186.41L349.02,191.61L343.82,191.61Z" fill="none" stroke="#9a2ed6" stroke-width="1.2"/>
<path d="M358.96,190.02L361.56,195.22L356.36,195.22Z" fill="none" stroke="#9a2ed6" stroke-width="1.2"/>
<path d="M58.04,171.09 L70.58,132.34 L83.12,112.46 L95.65,98.62 L108.19,92.78 L120.73,94.77 L133.27,100.40 L145.81,108.94 L158.35,117.16 L170.88,125.55 L183.42,133.47 L195.96,138.67 L208.50,144.78 L221.04,150.04 L233.58,157.02 L246.12,159.23 L258.65,166.63 L271.19,167.63 L283.73,170.04 L296.27,174.69 L308.81,178.02 L321.35,184.57 L333.88,184.32 L346.42,188.99 L358.96,193.56" fill="none" stroke="#2222f0" stroke-width="1.1" stroke-dasharray="2.2,1.6"/>
<circle cx="58.04" cy="171.09" r="2.5" fill="none" stroke="#2222f0" stroke-width="1.2"/>
<circle cx="70.58" cy="132.34" r="2.5" fill="none" stroke="#2222f0" stroke-width="1.2"/>
<circle cx="83.12" cy="112.46" r="2.5" fill="none" stroke="#2222f0" stroke-width="1.2"/>
<circle cx="95.65" cy="98.62" r="2.5" fill="none" stroke="#2222f0" stroke-width="1.2"/>
<circle cx="108.19" cy="92.78" r="2.5" fill="none" stroke="#2222f0" stroke-width="1.2"/>
<circle cx="120.73" cy="94.77" r="2.5" fill="none" stroke="#2222f0" stroke-width="1.2"/>
<circle cx="133.27" cy="100.40" r="2.5" fill="none" stroke="#2222f0" stroke-width="1.2"/>
<circle cx="145.81" cy="108.94" r="2.5" fill="none" stroke="#2222f0" stroke-width="1.2"/>
<circle cx="158.35" cy="117.16" r="2.5" fill="none" stroke="#2222f0" stroke-width="1.2"/>
<circle cx="170.88" cy="125.55" r="2.5" fill="none" stroke="#2222f0" stroke-width="1.2"/>
<circle cx="183.42" cy="133.47" r="2.5" fill="none" stroke="#2222f0" stroke-width="1.2"/>
<circle cx="195.96" cy="138.67" r="2.5" fill="none" stroke="#2222f0" stroke-width="1.2"/>
<circle cx="208.50" cy="144.78" r="2.5" fill="none" stroke="#2222f0" stroke-width="1.2"/>
<circle cx="221.04" cy="150.04" r="2.5" fill="none" stroke="#2222f0" stroke-width="1.2"/>
<circle cx="233.58" cy="157.02" r="2.5" fill="none" stroke="#2222f0" stroke-width="1.2"/>
<circle cx="246.12" cy="159.23" r="2.5" fill="none" stroke="#2222f0" stroke-width="1.2"/>
<circle cx="258.65" cy="166.63" r="2.5" fill="none" stroke="#2222f0" stroke-width="1.2"/>
<circle cx="271.19" cy="167.63" r="2.5" fill="none" stroke="#2222f0" stroke-width="1.2"/>
<circle cx="283.73" cy="170.04" r="2.5" fill="none" stroke="#2222f0" stroke-width="1.2"/>
<circle cx="296.27" cy="174.69" r="2.5" fill="none" stroke="#2222f0" stroke-width="1.2"/>
<circle cx="308.81" cy="178.02" r="2.5" fill="none" stroke="#2222f0" stroke-width="1.2"/>
<circle cx="321.35" cy="184.57" r="2.5" fill="none" stroke="#2222f0" stroke-width="1.2"/>
<circle cx="333.88" cy="184.32" r="2.5" fill="none" stroke="#2222f0" stroke-width="1.2"/>
<circle cx="346.42" cy="188.99" r="2.5" fill="none" stroke="#2222f0" stroke-width="1.2"/>
<circle cx="358.96" cy="193.56" r="2.5" fill="none" stroke="#2222f0" stroke-width="1.2"/>
<path d="M58.04,166.21 L70.58,129.16 L83.12,103.85 L95.65,92.65 L108.19,91.99 L120.73,97.75 L133.27,104.88 L145.81,113.97 L158.35,121.59 L170.88,129.31 L183.42,136.73 L195.96,139.87 L208.50,145.12 L221.04,152.23 L233.58,156.21 L246.12,159.23 L258.65,165.46 L271.19,169.63 L283.73,170.98 L296.27,178.62 L308.81,178.96 L321.35,180.87 L333.88,188.49 L346.42,192.64 L358.96,191.00" fill="none" stroke="#1ee0b4" stroke-width="1.0" stroke-dasharray="1,1.2"/>
<circle cx="58.04" cy="166.21" r="2.5" fill="none" stroke="#1ee0b4" stroke-width="1.2"/>
<circle cx="70.58" cy="129.16" r="2.5" fill="none" stroke="#1ee0b4" stroke-width="1.2"/>
<circle cx="83.12" cy="103.85" r="2.5" fill="none" stroke="#1ee0b4" stroke-width="1.2"/>
<circle cx="95.65" cy="92.65" r="2.5" fill="none" stroke="#1ee0b4" stroke-width="1.2"/>
<circle cx="108.19" cy="91.99" r="2.5" fill="none" stroke="#1ee0b4" stroke-width="1.2"/>
<circle cx="120.73" cy="97.75" r="2.5" fill="none" stroke="#1ee0b4" stroke-width="1.2"/>
<circle cx="133.27" cy="104.88" r="2.5" fill="none" stroke="#1ee0b4" stroke-width="1.2"/>
<circle cx="145.81" cy="113.97" r="2.5" fill="none" stroke="#1ee0b4" stroke-width="1.2"/>
<circle cx="158.35" cy="121.59" r="2.5" fill="none" stroke="#1ee0b4" stroke-width="1.2"/>
<circle cx="170.88" cy="129.31" r="2.5" fill="none" stroke="#1ee0b4" stroke-width="1.2"/>
<circle cx="183.42" cy="136.73" r="2.5" fill="none" stroke="#1ee0b4" stroke-width="1.2"/>
<circle cx="195.96" cy="139.87" r="2.5" fill="none" stroke="#1ee0b4" stroke-width="1.2"/>
<circle cx="208.50" cy="145.12" r="2.5" fill="none" stroke="#1ee0b4" stroke-width="1.2"/>
<circle cx="221.04" cy="152.23" r="2.5" fill="none" stroke="#1ee0b4" stroke-width="1.2"/>
<circle cx="233.58" cy="156.21" r="2.5" fill="none" stroke="#1ee0b4" stroke-width="1.2"/>
<circle cx="246.12" cy="159.23" r="2.5" fill="none" stroke="#1ee0b4" stroke-width="1.2"/>
<circle cx="258.65" cy="165.46" r="2.5" fill="none" stroke="#1ee0b4" stroke-width="1.2"/>
<circle cx="271.19" cy="169.63" r="2.5" fill="none" stroke="#1ee0b4" stroke-width="1.2"/>
<circle cx="283.73" cy="170.98" r="2.5" fill="none" stroke="#1ee0b4" stroke-width="1.2"/>
<circle cx="296.27" cy="178.62" r="2.5" fill="none" stroke="#1ee0b4" stroke-width="1.2"/>
<circle cx="308.81" cy="178.96" r="2.5" fill="none" stroke="#1ee0b4" stroke-width="1.2"/>
<circle cx="321.35" cy="180.87" r="2.5" fill="none" stroke="#1ee0b4" stroke-width="1.2"/>
<circle cx="333.88" cy="188.49" r="2.5" fill="none" stroke="#1ee0b4" stroke-width="1.2"/>
<circle cx="346.42" cy="192.64" r="2.5" fill="none" stroke="#1ee0b4" stroke-width="1.2"/>
<circle cx="358.96" cy="191.00" r="2.5" fill="none" stroke="#1ee0b4" stroke-width="1.2"/>
<path d="M58.04,178.07 L70.58,138.05 L83.12,119.76 L95.65,106.13 L108.19,96.69 L120.73,93.76 L133.27,96.09 L145.81,103.72 L158.35,112.00 L170.88,120.31 L183.42,128.57 L195.96,136.58 L208.50,140.85 L221.04,150.51 L233.58,152.85 L246.12,157.62 L258.65,162.43 L271.19,164.05 L283.73,171.66 L296.27,178.62 L308.81,179.40 L321.35,182.96 L333.88,192.14 L346.42,190.40 L358.96,192.18" fill="none" stroke="#b87c3c" stroke-width="1.1" stroke-dasharray="1.8,2"/>
<path d="M58.04,174.57L61.04,180.57L55.04,180.57Z" fill="#b87c3c"/>
<path d="M70.58,134.55L73.58,140.55L67.58,140.55Z" fill="#b87c3c"/>
<path d="M83.12,116.26L86.12,122.26L80.12,122.26Z" fill="#b87c3c"/>
<path d="M95.65,102.63L98.65,108.63L92.65,108.63Z" fill="#b87c3c"/>
<path d="M108.19,93.19L111.19,99.19L105.19,99.19Z" fill="#b87c3c"/>
<path d="M120.73,90.26L123.73,96.26L117.73,96.26Z" fill="#b87c3c"/>
<path d="M133.27,92.59L136.27,98.59L130.27,98.59Z" fill="#b87c3c"/>
<path d="M145.81,100.22L148.81,106.22L142.81,106.22Z" fill="#b87c3c"/>
<path d="M158.35,108.50L161.35,114.50L155.35,114.50Z" fill="#b87c3c"/>
<path d="M170.88,116.81L173.88,122.81L167.88,122.81Z" fill="#b87c3c"/>
<path d="M183.42,125.07L186.42,131.07L180.42,131.07Z" fill="#b87c3c"/>
<path d="M195.96,133.08L198.96,139.08L192.96,139.08Z" fill="#b87c3c"/>
<path d="M208.50,137.35L211.50,143.35L205.50,143.35Z" fill="#b87c3c"/>
<path d="M221.04,147.01L224.04,153.01L218.04,153.01Z" fill="#b87c3c"/>
<path d="M233.58,149.35L236.58,155.35L230.58,155.35Z" fill="#b87c3c"/>
<path d="M246.12,154.12L249.12,160.12L243.12,160.12Z" fill="#b87c3c"/>
<path d="M258.65,158.93L261.65,164.93L255.65,164.93Z" fill="#b87c3c"/>
<path d="M271.19,160.55L274.19,166.55L268.19,166.55Z" fill="#b87c3c"/>
<path d="M283.73,168.16L286.73,174.16L280.73,174.16Z" fill="#b87c3c"/>
<path d="M296.27,175.12L299.27,181.12L293.27,181.12Z" fill="#b87c3c"/>
<path d="M308.81,175.90L311.81,181.90L305.81,181.90Z" fill="#b87c3c"/>
<path d="M321.35,179.46L324.35,185.46L318.35,185.46Z" fill="#b87c3c"/>
<path d="M333.88,188.64L336.88,194.64L330.88,194.64Z" fill="#b87c3c"/>
<path d="M346.42,186.90L349.42,192.90L343.42,192.90Z" fill="#b87c3c"/>
<path d="M358.96,188.68L361.96,194.68L355.96,194.68Z" fill="#b87c3c"/>
<path d="M58.04,162.95 L70.58,130.47 L83.12,114.20 L95.65,102.58 L108.19,97.29 L120.73,96.81 L133.27,99.25 L145.81,106.69 L158.35,113.87 L170.88,120.31 L183.42,127.79 L195.96,133.64 L208.50,139.23 L221.04,146.54 L233.58,149.38 L246.12,152.50 L258.65,159.41 L271.19,162.44 L283.73,165.27 L296.27,167.85 L308.81,174.32 L321.35,177.84 L333.88,185.94 L346.42,182.73 L358.96,188.68" fill="none" stroke="#e6144a" stroke-width="1.1" stroke-dasharray="1.6,2,0.8,2"/>
<path d="M58.04,166.45L61.14,160.45L54.94,160.45Z" fill="#e6144a"/>
<path d="M70.58,133.97L73.68,127.97L67.48,127.97Z" fill="#e6144a"/>
<path d="M83.12,117.70L86.22,111.70L80.02,111.70Z" fill="#e6144a"/>
<path d="M95.65,106.08L98.75,100.08L92.55,100.08Z" fill="#e6144a"/>
<path d="M108.19,100.79L111.29,94.79L105.09,94.79Z" fill="#e6144a"/>
<path d="M120.73,100.31L123.83,94.31L117.63,94.31Z" fill="#e6144a"/>
<path d="M133.27,102.75L136.37,96.75L130.17,96.75Z" fill="#e6144a"/>
<path d="M145.81,110.19L148.91,104.19L142.71,104.19Z" fill="#e6144a"/>
<path d="M158.35,117.37L161.45,111.37L155.25,111.37Z" fill="#e6144a"/>
<path d="M170.88,123.81L173.98,117.81L167.78,117.81Z" fill="#e6144a"/>
<path d="M183.42,131.29L186.52,125.29L180.32,125.29Z" fill="#e6144a"/>
<path d="M195.96,137.14L199.06,131.14L192.86,131.14Z" fill="#e6144a"/>
<path d="M208.50,142.73L211.60,136.73L205.40,136.73Z" fill="#e6144a"/>
<path d="M221.04,150.04L224.14,144.04L217.94,144.04Z" fill="#e6144a"/>
<path d="M233.58,152.88L236.68,146.88L230.48,146.88Z" fill="#e6144a"/>
<path d="M246.12,156.00L249.22,150.00L243.02,150.00Z" fill="#e6144a"/>
<path d="M258.65,162.91L261.75,156.91L255.55,156.91Z" fill="#e6144a"/>
<path d="M271.19,165.94L274.29,159.94L268.09,159.94Z" fill="#e6144a"/>
<path d="M283.73,168.77L286.83,162.77L280.63,162.77Z" fill="#e6144a"/>
<path d="M296.27,171.35L299.37,165.35L293.17,165.35Z" fill="#e6144a"/>
<path d="M308.81,177.82L311.91,171.82L305.71,171.82Z" fill="#e6144a"/>
<path d="M321.35,181.34L324.45,175.34L318.25,175.34Z" fill="#e6144a"/>
<path d="M333.88,189.44L336.98,183.44L330.78,183.44Z" fill="#e6144a"/>
<path d="M346.42,186.23L349.52,180.23L343.32,180.23Z" fill="#e6144a"/>
<path d="M358.96,192.18L362.06,186.18L355.86,186.18Z" fill="#e6144a"/>
</g>
<rect x="45.5" y="17.3" width="326.0" height="300.0" fill="none" stroke="#000" stroke-width="1.2"/>
<rect x="45.5" y="317.3" width="326.0" height="160.59999999999997" fill="none" stroke="#000" stroke-width="1.2"/>
<path d="M45.5,313.85h11M371.5,313.85h-11M45.5,298.06h5.5M371.5,298.06h-5.5M45.5,288.82h5.5M371.5,288.82h-5.5M45.5,282.27h5.5M371.5,282.27h-5.5M45.5,277.19h5.5M371.5,277.19h-5.5M45.5,273.04h5.5M371.5,273.04h-5.5M45.5,269.52h5.5M371.5,269.52h-5.5M45.5,266.48h5.5M371.5,266.48h-5.5M45.5,263.80h5.5M371.5,263.80h-5.5M45.5,261.40h11M371.5,261.40h-11M45.5,245.61h5.5M371.5,245.61h-5.5M45.5,236.37h5.5M371.5,236.37h-5.5M45.5,229.82h5.5M371.5,229.82h-5.5M45.5,224.74h5.5M371.5,224.74h-5.5M45.5,220.59h5.5M371.5,220.59h-5.5M45.5,217.07h5.5M371.5,217.07h-5.5M45.5,214.03h5.5M371.5,214.03h-5.5M45.5,211.35h5.5M371.5,211.35h-5.5M45.5,208.95h11M371.5,208.95h-11M45.5,193.16h5.5M371.5,193.16h-5.5M45.5,183.92h5.5M371.5,183.92h-5.5M45.5,177.37h5.5M371.5,177.37h-5.5M45.5,172.29h5.5M371.5,172.29h-5.5M45.5,168.14h5.5M371.5,168.14h-5.5M45.5,164.62h5.5M371.5,164.62h-5.5M45.5,161.58h5.5M371.5,161.58h-5.5M45.5,158.90h5.5M371.5,158.90h-5.5M45.5,156.50h11M371.5,156.50h-11M45.5,140.71h5.5M371.5,140.71h-5.5M45.5,131.47h5.5M371.5,131.47h-5.5M45.5,124.92h5.5M371.5,124.92h-5.5M45.5,119.84h5.5M371.5,119.84h-5.5M45.5,115.69h5.5M371.5,115.69h-5.5M45.5,112.17h5.5M371.5,112.17h-5.5M45.5,109.13h5.5M371.5,109.13h-5.5M45.5,106.45h5.5M371.5,106.45h-5.5M45.5,104.05h11M371.5,104.05h-11M45.5,88.26h5.5M371.5,88.26h-5.5M45.5,79.02h5.5M371.5,79.02h-5.5M45.5,72.47h5.5M371.5,72.47h-5.5M45.5,67.39h5.5M371.5,67.39h-5.5M45.5,63.24h5.5M371.5,63.24h-5.5M45.5,59.72h5.5M371.5,59.72h-5.5M45.5,56.68h5.5M371.5,56.68h-5.5M45.5,54.00h5.5M371.5,54.00h-5.5M45.5,51.60h11M371.5,51.60h-11M45.5,35.81h5.5M371.5,35.81h-5.5M45.5,26.57h5.5M371.5,26.57h-5.5M45.5,20.02h5.5M371.5,20.02h-5.5M58.04,17.3v2.8M58.04,317.3v-2.8M58.04,317.3v2M58.04,477.9v-2.2M70.58,17.3v2.8M70.58,317.3v-2.8M70.58,317.3v2M70.58,477.9v-2.2M83.12,17.3v2.8M83.12,317.3v-2.8M83.12,317.3v2M83.12,477.9v-2.2M95.65,17.3v2.8M95.65,317.3v-2.8M95.65,317.3v2M95.65,477.9v-2.2M108.19,17.3v2.8M108.19,317.3v-2.8M108.19,317.3v2M108.19,477.9v-2.2M120.73,17.3v7M120.73,317.3v-8M120.73,317.3v5M120.73,477.9v-5M133.27,17.3v2.8M133.27,317.3v-2.8M133.27,317.3v2M133.27,477.9v-2.2M145.81,17.3v2.8M145.81,317.3v-2.8M145.81,317.3v2M145.81,477.9v-2.2M158.35,17.3v2.8M158.35,317.3v-2.8M158.35,317.3v2M158.35,477.9v-2.2M170.88,17.3v2.8M170.88,317.3v-2.8M170.88,317.3v2M170.88,477.9v-2.2M183.42,17.3v2.8M183.42,317.3v-2.8M183.42,317.3v2M183.42,477.9v-2.2M195.96,17.3v2.8M195.96,317.3v-2.8M195.96,317.3v2M195.96,477.9v-2.2M208.50,17.3v2.8M208.50,317.3v-2.8M208.50,317.3v2M208.50,477.9v-2.2M221.04,17.3v2.8M221.04,317.3v-2.8M221.04,317.3v2M221.04,477.9v-2.2M233.58,17.3v2.8M233.58,317.3v-2.8M233.58,317.3v2M233.58,477.9v-2.2M246.12,17.3v7M246.12,317.3v-8M246.12,317.3v5M246.12,477.9v-5M258.65,17.3v2.8M258.65,317.3v-2.8M258.65,317.3v2M258.65,477.9v-2.2M271.19,17.3v2.8M271.19,317.3v-2.8M271.19,317.3v2M271.19,477.9v-2.2M283.73,17.3v2.8M283.73,317.3v-2.8M283.73,317.3v2M283.73,477.9v-2.2M296.27,17.3v2.8M296.27,317.3v-2.8M296.27,317.3v2M296.27,477.9v-2.2M308.81,17.3v2.8M308.81,317.3v-2.8M308.81,317.3v2M308.81,477.9v-2.2M321.35,17.3v2.8M321.35,317.3v-2.8M321.35,317.3v2M321.35,477.9v-2.2M333.88,17.3v2.8M333.88,317.3v-2.8M333.88,317.3v2M333.88,477.9v-2.2M346.42,17.3v2.8M346.42,317.3v-2.8M346.42,317.3v2M346.42,477.9v-2.2M358.96,17.3v2.8M358.96,317.3v-2.8M358.96,317.3v2M358.96,477.9v-2.2M371.50,17.3v7M371.50,317.3v-8M371.50,317.3v5M371.50,477.9v-5M45.5,458.40h7M371.5,458.40h-7M45.5,442.47h5M371.5,442.47h-5M45.5,429.01h5M371.5,429.01h-5M45.5,417.34h5M371.5,417.34h-5M45.5,407.05h5M371.5,407.05h-5M45.5,397.85h7M371.5,397.85h-7M45.5,389.52h5M371.5,389.52h-5M45.5,381.92h5M371.5,381.92h-5M45.5,374.93h5M371.5,374.93h-5M45.5,368.46h5M371.5,368.46h-5M45.5,362.43h5M371.5,362.43h-5M45.5,356.79h5M371.5,356.79h-5M45.5,351.50h5M371.5,351.50h-5M45.5,346.50h5M371.5,346.50h-5M45.5,341.78h5M371.5,341.78h-5M45.5,337.30h7M371.5,337.30h-7M45.5,333.04h5M371.5,333.04h-5M45.5,328.97h5M371.5,328.97h-5M45.5,325.09h5M371.5,325.09h-5M45.5,321.37h5M371.5,321.37h-5M45.5,317.81h5M371.5,317.81h-5" stroke="#000" stroke-width="1" fill="none"/>
<text x="51.3" y="14" font-size="12" >13000 GeV pp</text>
<text x="365.6" y="13.6" font-size="12" text-anchor="end" >Z+Jet</text>
<text x="77" y="42.7" font-size="12" >Transverse region, 60 &lt; p</text>
<text x="210.6" y="48.3" font-size="8" >T</text>
<text x="209.6" y="36.6" font-size="8" >Z</text>
<text x="340.8" y="42.7" font-size="12" text-anchor="end" >&lt; 80 [GeV], high thrust</text>
<text x="40.5" y="55.60" font-size="11" text-anchor="end" >10</text>
<text x="40.5" y="108.05" font-size="11" text-anchor="end" >1</text>
<text x="33.6" y="162.00" font-size="10.5" text-anchor="end" >10</text>
<text x="33.4" y="157.00" font-size="7" textLength="6.6" lengthAdjust="spacingAndGlyphs" >−1</text>
<text x="31.6" y="214.45" font-size="10.5" text-anchor="end" >10</text>
<text x="31.400000000000002" y="209.45" font-size="7" textLength="8.2" lengthAdjust="spacingAndGlyphs" >−2</text>
<text x="31.6" y="266.90" font-size="10.5" text-anchor="end" >10</text>
<text x="31.400000000000002" y="261.90" font-size="7" textLength="8.2" lengthAdjust="spacingAndGlyphs" >−3</text>
<text x="31.6" y="319.35" font-size="10.5" text-anchor="end" >10</text>
<text x="31.400000000000002" y="314.35" font-size="7" textLength="8.2" lengthAdjust="spacingAndGlyphs" >−4</text>
<text x="38" y="341.30" font-size="11" text-anchor="end" >2</text>
<text x="38" y="401.85" font-size="11" text-anchor="end" >1</text>
<text x="38" y="462.40" font-size="11" text-anchor="end" >0.5</text>
<text x="373.2" y="341.30" font-size="11" >2</text>
<text x="373.2" y="401.85" font-size="11" >1</text>
<text x="373.2" y="462.40" font-size="11" >0.5</text>
<text x="120.73" y="489.1" font-size="11.5" text-anchor="middle" >1</text>
<text x="246.12" y="489.1" font-size="11.5" text-anchor="middle" >2</text>
<text x="371" y="489.3" font-size="11.5" text-anchor="middle" >3</text>
<text x="290" y="501.5" font-size="12" >Mean p</text>
<text x="329.3" y="506.8" font-size="8" >T</text>
<text x="368.6" y="501.5" font-size="12" text-anchor="end" >/dη dϕ</text>
<g transform="translate(15.1,166) rotate(-90)" font-size="11.6" ><text x="-0.9" y="0">1/N</text><text x="17.4" y="3.2" font-size="8">ev</text><text x="27.6" y="0">d</text><text x="34.6" y="0">N</text><text x="44.6" y="3.2" font-size="8">ev</text><text x="50.6" y="0">/d</text><text x="65.9" y="0">mean p</text><text x="104.3" y="5" font-size="7">T</text><text x="110.2" y="0">[GeV]</text><text x="140.6" y="-6" font-size="8">−1</text></g>
<text transform="translate(18.7,427.2) rotate(-90)" font-size="9" >Ratio to ATLAS</text>
<text transform="translate(380.6,126.6) rotate(-90)" font-size="9.9" fill="#666" textLength="108.5" lengthAdjust="spacingAndGlyphs" >Rivet 4.1.0, ≥ 2.3M events</text>
<text transform="translate(380.6,313.8) rotate(-90)" font-size="9.9" fill="#666" textLength="148" lengthAdjust="spacingAndGlyphs" >mcplots.cern.ch [arXiv:2401.10621]</text>
<text x="162.6" y="302.9" font-size="8.8" fill="#999" textLength="92" lengthAdjust="spacingAndGlyphs" >(ATLAS_2019_I1736531)</text>
<rect x="74" y="195.20000000000002" width="5.2" height="5.2" fill="#000"/>
<text x="94.4" y="201.10000000000002" font-size="9.5" >ATLAS</text>
<line x1="64.3" y1="210.8" x2="88.7" y2="210.8" stroke="#aa1e3c" stroke-width="1.3" stroke-dasharray=""/>
<path d="M76.50,207.70L79.10,212.90L73.90,212.90Z" fill="none" stroke="#aa1e3c" stroke-width="1.2"/>
<text x="94.4" y="214.10000000000002" font-size="9.5" >Pythia 6.428 370</text>
<line x1="64.3" y1="223.7" x2="88.7" y2="223.7" stroke="#9a2ed6" stroke-width="1.0" stroke-dasharray="1,1"/>
<path d="M76.50,220.60L79.10,225.80L73.90,225.80Z" fill="none" stroke="#9a2ed6" stroke-width="1.2"/>
<text x="94.4" y="227.0" font-size="9.5" >Pythia 6.428 373</text>
<line x1="64.3" y1="236.6" x2="88.7" y2="236.6" stroke="#2222f0" stroke-width="1.1" stroke-dasharray="2.2,1.6"/>
<circle cx="76.50" cy="236.60" r="2.5" fill="none" stroke="#2222f0" stroke-width="1.2"/>
<text x="94.4" y="239.9" font-size="9.5" >Pythia 6.428 374</text>
<line x1="64.3" y1="249.6" x2="88.7" y2="249.6" stroke="#1ee0b4" stroke-width="1.0" stroke-dasharray="1,1.2"/>
<circle cx="76.50" cy="249.60" r="2.5" fill="none" stroke="#1ee0b4" stroke-width="1.2"/>
<text x="94.4" y="252.9" font-size="9.5" >Pythia 6.428 375</text>
<line x1="64.3" y1="262.6" x2="88.7" y2="262.6" stroke="#b87c3c" stroke-width="1.1" stroke-dasharray="1.8,2"/>
<path d="M76.50,259.10L79.50,265.10L73.50,265.10Z" fill="#b87c3c"/>
<text x="94.4" y="265.90000000000003" font-size="9.5" >Pythia 6.428 381</text>
<line x1="64.3" y1="275.5" x2="88.7" y2="275.5" stroke="#e6144a" stroke-width="1.1" stroke-dasharray="1.6,2,0.8,2"/>
<path d="M76.50,279.00L79.60,273.00L73.40,273.00Z" fill="#e6144a"/>
<text x="94.4" y="278.8" font-size="9.5" >Pythia 6.428 382</text>
</svg></body></html>
